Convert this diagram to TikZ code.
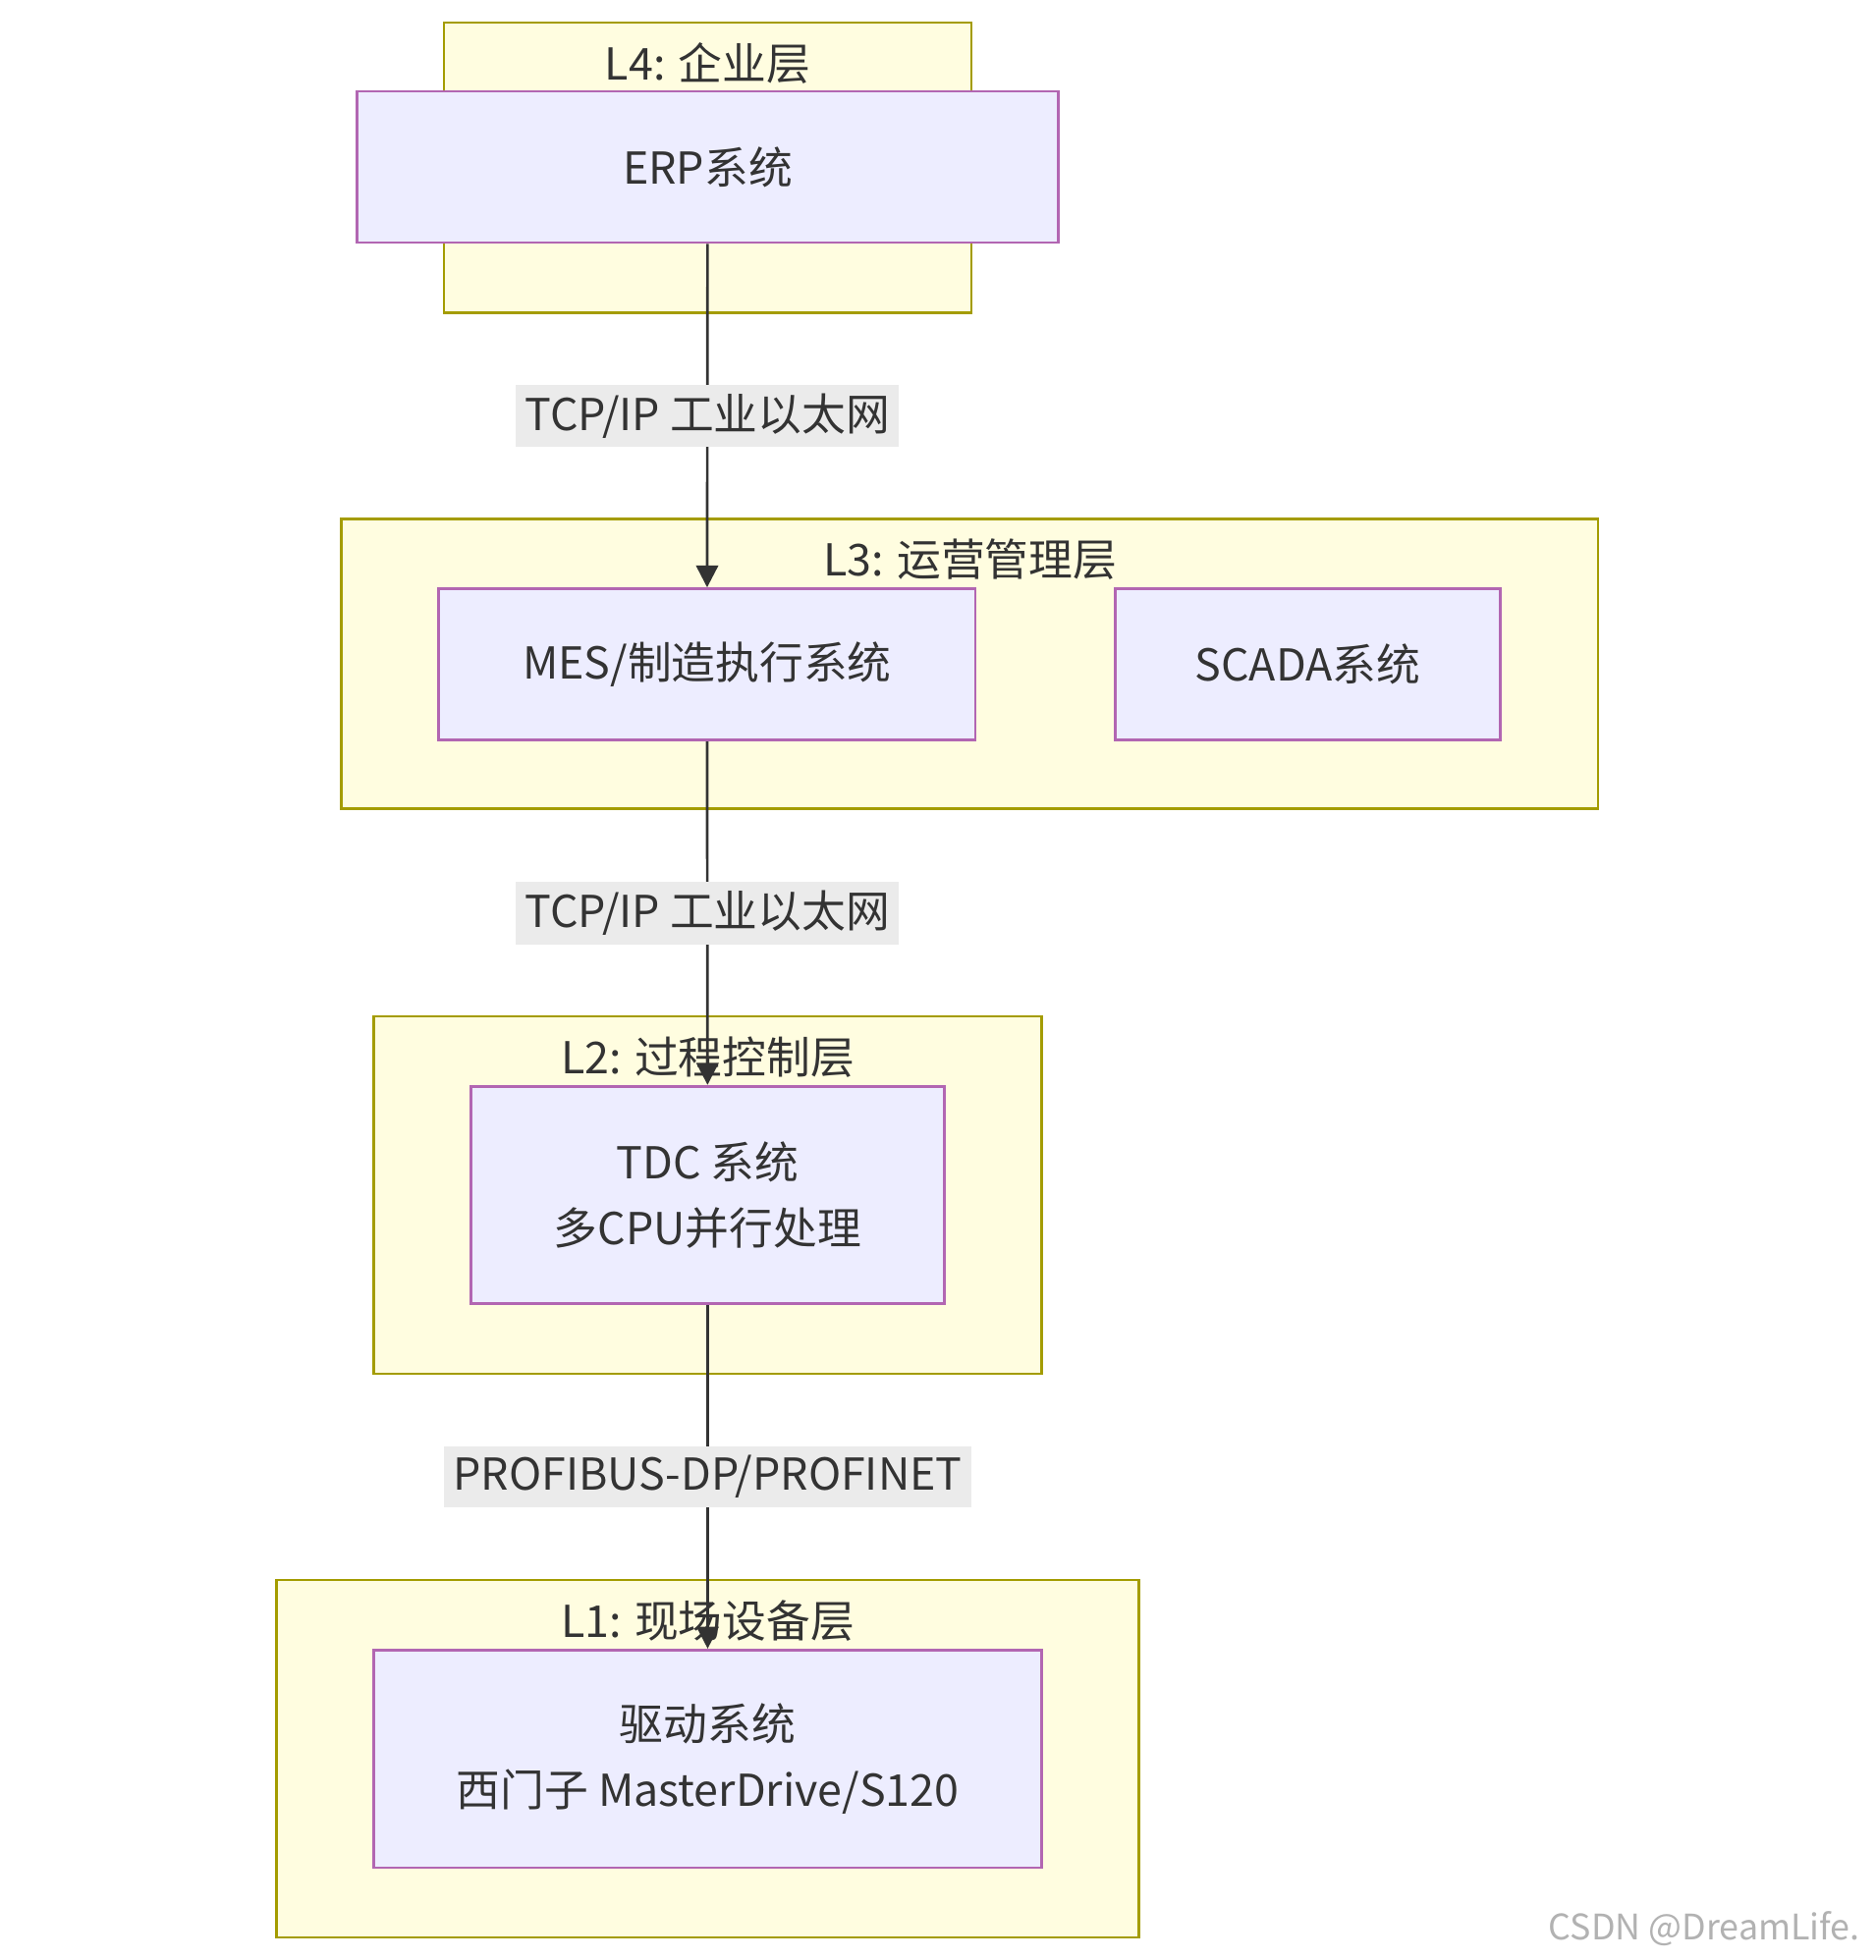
\documentclass[tikz,border=0pt]{standalone}
\usepackage{fontspec}
\setmainfont{Noto Sans CJK SC}
\usetikzlibrary{arrows.meta}

\begin{document}
\begin{tikzpicture}[x=0.01cm, y=-0.01cm,
    layer/.style={draw=olive!80!yellow, fill=yellow!12, line width=0.6pt},
    sysbox/.style={draw=violet!60, fill=blue!7, line width=0.6pt, align=center, font=\fontsize{10}{15}\selectfont, text=black!80},
    title/.style={font=\fontsize{10}{12}\selectfont, text=black!80, anchor=north},
    link/.style={draw=black!80, line width=0.6pt, -{Triangle[length=5pt, width=5pt]}},
    linklabel/.style={fill=black!8, inner sep=2pt, font=\fontsize{10}{12}\selectfont, text=black!80}]
  \useasboundingbox[fill=white] (0,0) rectangle (1500,1568);
  % layers
  \draw[layer] (355,18) rectangle (777,250);
  \draw[layer] (273,415) rectangle (1278,647);
  \draw[layer] (299,813) rectangle (833,1099);
  \draw[layer] (221,1264) rectangle (911,1550);
  \node[title] (t4) at (566,22) {L4: 企业层};
  \node[title] (t3) at (776,419) {L3: 运营管理层};
  \node[title] (t2) at (566,817) {L2: 过程控制层};
  \node[title] (t1) at (566,1268) {L1: 现场设备层};
  % systems
  \node[sysbox, minimum width=266\pgflinewidth, text width=2.4cm, minimum height=1.21cm] (erp) at (566,133.5) {ERP系统};
  \node[sysbox, minimum width=4.29cm, minimum height=1.21cm] (mes) at (565.5,531.5) {MES/制造执行系统};
  \node[sysbox, minimum width=3.08cm, minimum height=1.21cm] (scada) at (1046,531.5) {SCADA系统};
  \node[sysbox, minimum width=3.78cm, minimum height=1.74cm] (tdc) at (566,956) {TDC 系统\\多CPU并行处理};
  \node[sysbox, minimum width=5.34cm, minimum height=1.74cm] (drive) at (566,1407) {驱动系统\\西门子 MasterDrive/S120};
  % links
  \draw[link] (erp) -- (mes) node[linklabel, midway] (l1) {TCP/IP 工业以太网};
  \draw[link] (mes) -- (tdc) node[linklabel, midway] (l2) {TCP/IP 工业以太网};
  \draw[link] (tdc) -- (drive) node[linklabel, midway] (l3) {PROFIBUS-DP/PROFINET};
  \node[anchor=east, text=black!30, font=\fontsize{8}{10}\selectfont] (wm) at (1500,1543) {CSDN @DreamLife.};
\end{tikzpicture}
\end{document}
